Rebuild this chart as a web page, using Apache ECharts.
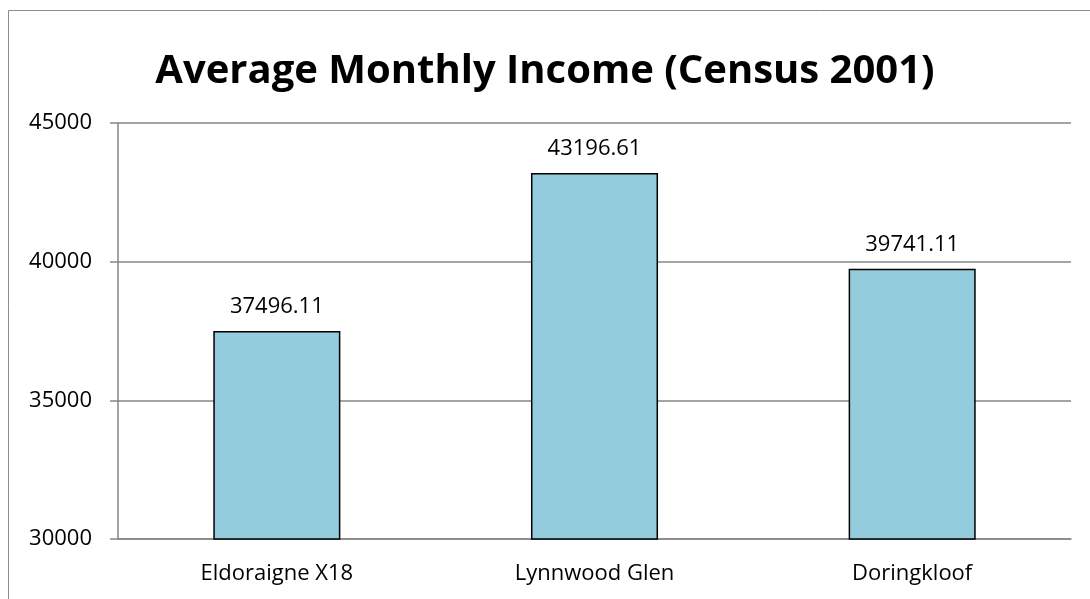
<!DOCTYPE html>
<html><head><meta charset="utf-8">
<script src="https://cdn.jsdelivr.net/npm/echarts@6/dist/echarts.min.js"></script>
<style>html,body{margin:0;padding:0;background:#fff}#c{width:1090px;height:599px}</style>
</head><body><div id="c"></div>
<script>
const categories = ['Eldoraigne X18', 'Lynnwood Glen', 'Doringkloof'];
const values = [37496.11, 43196.61, 39741.11];
const yTicks = {min: 30000, max: 45000, interval: 5000};
const titleText = 'Average Monthly Income (Census 2001)';

const chart = echarts.init(document.getElementById('c'));
const font = '"Open Sans", "Noto Sans", sans-serif';
chart.setOption({
  animation: false,
  title: {text: titleText, left: 'center', top: 47,
    textStyle: {fontFamily: font, fontWeight: 'bold', fontSize: 40, color: '#000'}},
  graphic: [{type: 'rect', shape: {x: 8.5, y: 10.5, width: 1100, height: 620},
    style: {fill: 'none', stroke: '#8c8c8c', lineWidth: 1}, silent: true, z: -1}],
  grid: {left: 118, right: 19, top: 123, bottom: 60},
  xAxis: {type: 'category', data: categories,
    axisLine: {lineStyle: {color: '#868686', width: 1.5}},
    axisTick: {show: false},
    axisLabel: {color: '#000', fontFamily: font, fontSize: 22, margin: 24}},
  yAxis: {type: 'value', min: yTicks.min, max: yTicks.max, interval: yTicks.interval,
    axisLine: {show: true, lineStyle: {color: '#868686', width: 1.5}},
    axisTick: {show: true, length: 8, lineStyle: {color: '#868686', width: 1.5}},
    splitLine: {lineStyle: {color: '#868686', width: 1.5}},
    axisLabel: {color: '#000', fontFamily: font, fontSize: 22, margin: 26, formatter: v => String(v)}},
  series: [{type: 'bar', data: values, barWidth: '40%',
    itemStyle: {color: '#93CDDD', borderColor: '#000', borderWidth: 1.5},
    label: {show: true, position: 'top', distance: 13, color: '#000', fontFamily: font, fontSize: 22,
      formatter: p => p.value.toFixed(2)}}]
});
</script></body></html>
